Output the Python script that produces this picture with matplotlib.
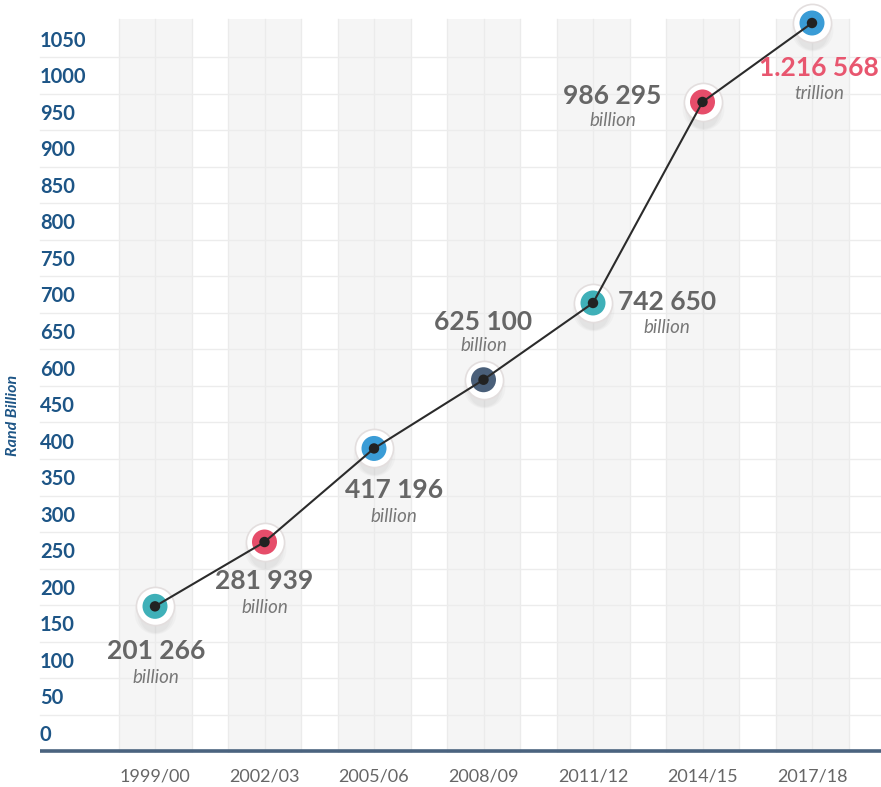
import matplotlib
matplotlib.use("Agg")
import matplotlib.pyplot as plt
import matplotlib.transforms as mtransforms
import numpy as np

# ---------------- data ----------------
years = ['1999/00', '2002/03', '2005/06', '2008/09', '2011/12', '2014/15', '2017/18']
value_labels = ['201 266', '281 939', '417 196', '625 100', '742 650', '986 295', '1.216 568']
unit_labels = ['billion', 'billion', 'billion', 'billion', 'billion', 'billion', 'trillion']
# marker heights as drawn in the infographic (in y-axis label units)
marker_heights = [176, 264, 392, 486, 591, 866, 974]
ytick_labels = ['0', '50', '100', '150', '200', '250', '300', '350', '400', '450',
                '600', '650', '700', '750', '800', '850', '900', '950', '1000', '1050']
ytick_positions = [50 * i for i in range(len(ytick_labels))]
point_colors = ['#3fb0b8', '#e64d6a', '#3a9cd6', '#4a5f79', '#3fb0b8', '#e64d6a', '#3a9cd6']

# ---------------- figure ----------------
W, H = 881, 787
fig = plt.figure(figsize=(W / 100, H / 100), dpi=100)
ax = fig.add_axes([0, 34 / H, 1, 1 - 34 / H])
px_per_cat = 109.5
x0_px = 155
xl = (0 - x0_px) / px_per_cat
xr = (W - x0_px) / px_per_cat
ax.set_xlim(xl, xr)
px_per_unit = 36.55 / 50
ybot = -(753 - 735) / px_per_unit
ytop = (735 - 0) / px_per_unit
ax.set_ylim(ybot, ytop)
ax.axis('off')

FONT = 'Lato'
band_top = (735 - 19) / px_per_unit
grid_left = (40 - x0_px) / px_per_cat

x = np.arange(len(years))
# gray bands
for c in x:
    ax.fill_between([c - 1 / 3, c + 1 / 3], ybot, band_top, color='#f5f5f5', lw=0, zorder=0)
# vertical grid lines
for k in range(-1, 3 * (len(years) - 1) + 2):
    ax.plot([k / 3, k / 3], [ybot, band_top], color='#ebebeb', lw=1, zorder=1)
# horizontal grid lines
for k in range(len(ytick_labels) - 1):
    yy = (k + 0.55) * 50
    ax.plot([grid_left, xr], [yy, yy], color='#ececec', lw=1, zorder=1)

# x axis line
ax.plot([grid_left, xr], [ybot + 2.5, ybot + 2.5], color='#4a637f', lw=2.6, zorder=2,
        solid_capstyle='butt')

# y tick labels
for pos, lab in zip(ytick_positions, ytick_labels):
    ax.text(grid_left, pos, lab, ha='left', va='center', fontsize=14.5, color='#1d5586',
            fontfamily=FONT, fontweight='bold', zorder=3)
# y axis title
fig.text(13 / W, 1 - 415 / H, 'Rand Billion', rotation=90, ha='center', va='center',
         fontsize=11.5, color='#1d5586', fontfamily=FONT, fontweight='bold', fontstyle='italic')

# x tick labels
for c, lab in zip(x, years):
    fig.text((x0_px + c * px_per_cat) / W, 1 - 776 / H, lab, ha='center', va='center',
             fontsize=13, color='#666666', fontfamily=FONT, fontweight='normal')

# shadows
for dy, a, s in [(7, 0.05, 30), (9, 0.05, 26), (11, 0.06, 22)]:
    tr = mtransforms.offset_copy(ax.transData, fig=fig, x=0, y=-dy, units='dots')
    ax.plot(x, marker_heights, 'o', ms=s, mfc='#888888', mec='none', alpha=a,
            transform=tr, zorder=3)

# markers and line
ax.scatter(x, marker_heights, s=27.5 ** 2, c='white', edgecolors='#e3dede', linewidths=1.2, zorder=5)
ax.scatter(x, marker_heights, s=18 ** 2, c=point_colors, edgecolors='none', zorder=6)
ax.plot(x, marker_heights, color='#2b2b2b', lw=1.5, zorder=7)
ax.scatter(x, marker_heights, s=7.5 ** 2, c='#222222', edgecolors='none', zorder=8)

# value labels (pixel offsets from point)
offsets = [(1, 45), (0, 39), (20, 42), (0, -58), (74, -1), (-90, -6), (7, 45)]
unit_dy = [26, 26, 26, 24, 26, 25, 25]
for i in range(len(years)):
    dx, dy = offsets[i]
    col = '#e8566f' if i == len(years) - 1 else '#666666'
    ax.annotate(value_labels[i], (x[i], marker_heights[i]), xytext=(dx, -dy),
                textcoords='offset pixels', ha='center', va='center', fontsize=19,
                color=col, fontfamily=FONT, fontweight='bold', zorder=9)
    ax.annotate(unit_labels[i], (x[i], marker_heights[i]), xytext=(dx, -(dy + unit_dy[i])),
                textcoords='offset pixels', ha='center', va='center', fontsize=13.5,
                color='#777777', fontfamily=FONT, fontstyle='italic', zorder=9)

fig.savefig('out.png', dpi=100, facecolor='white')
